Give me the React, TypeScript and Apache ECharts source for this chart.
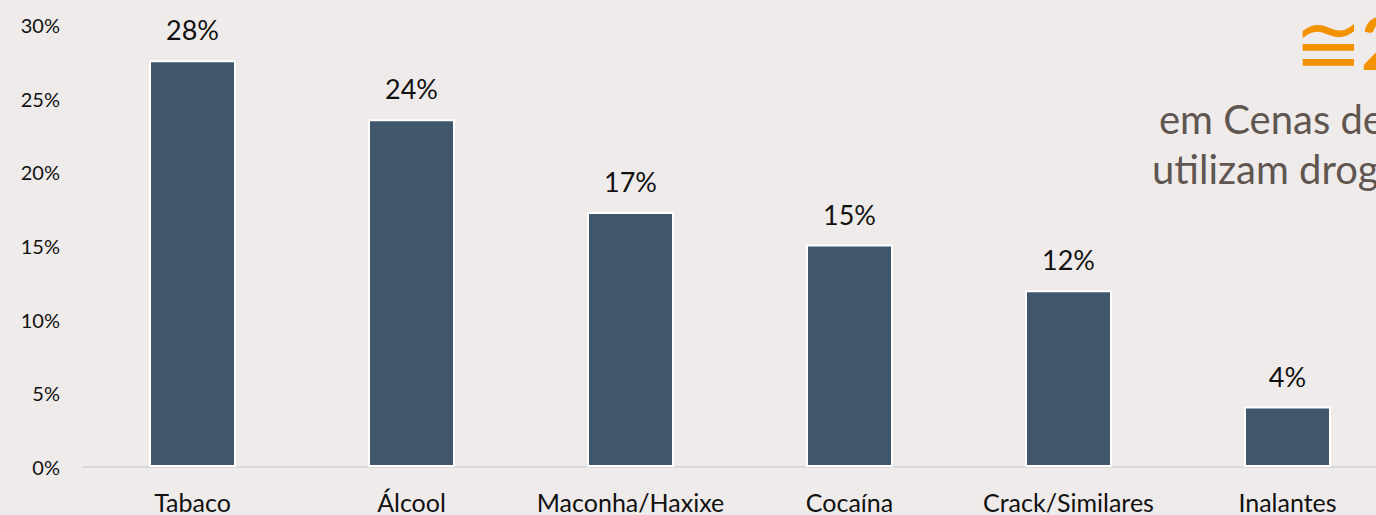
import React, { useEffect, useRef } from "react";
import * as echarts from "echarts";

const categories = ["Tabaco", "Álcool", "Maconha/Haxixe", "Cocaína", "Crack/Similares", "Inalantes"];
const values = [27.6, 23.6, 17.3, 15.1, 12.0, 4.1];
const yTicks = [0, 5, 10, 15, 20, 25, 30];

export default function App() {
  const ref = useRef<HTMLDivElement>(null);
  useEffect(() => {
    const chart = echarts.init(ref.current!, null, { renderer: "svg" });
    chart.setOption({
      animation: false,
      backgroundColor: "#efebea",
      grid: { left: 83, right: 3, top: 25, bottom: 48, containLabel: false },
      xAxis: {
        type: "category",
        data: categories,
        axisLine: { lineStyle: { color: "#d9d9d9", width: 2 } },
        axisTick: { show: false },
        axisLabel: { color: "#111", fontSize: 25, fontFamily: "Lato", margin: 22, interval: 0 },
      },
      yAxis: {
        type: "value",
        min: yTicks[0],
        max: yTicks[yTicks.length - 1],
        interval: 5,
        splitLine: { show: false },
        axisLine: { show: false },
        axisTick: { show: false },
        axisLabel: { color: "#111", fontSize: 20, fontFamily: "Lato", margin: 23, formatter: (v: number) => v + "%" },
      },
      series: [
        {
          type: "bar",
          data: values,
          barWidth: 87,
          itemStyle: { color: "#40566b", borderColor: "#ffffff", borderWidth: 2 },
          label: {
            show: true,
            position: "top",
            distance: 17,
            color: "#111",
            fontSize: 27,
            fontFamily: "Lato",
            formatter: (p: any) => Math.round(p.value) + "%",
          },
        },
      ],
      graphic: [
        { type: "text", x: 1294, y: 44, style: { text: "≅", fill: "#f39200", font: "82px 'DejaVu Sans'", verticalAlign: "middle" } },
        { type: "text", x: 1361, y: 42, style: { text: "2", fill: "#f39200", font: "bold 72px Lato", verticalAlign: "middle" } },
        { type: "text", x: 1159, y: 119, style: { text: "em Cenas de", fill: "#5f5651", font: "40px Lato", verticalAlign: "middle" } },
        { type: "text", x: 1152, y: 169, style: { text: "utilizam drog", fill: "#5f5651", font: "40px Lato", verticalAlign: "middle" } },
      ],
    });
    return () => chart.dispose();
  }, []);
  return (
    <div style={{ position: "fixed", left: 0, top: 0, width: 1376, height: 515, overflow: "hidden" }}>
      <div ref={ref} style={{ width: 1400, height: 515 }} />
    </div>
  );
}
